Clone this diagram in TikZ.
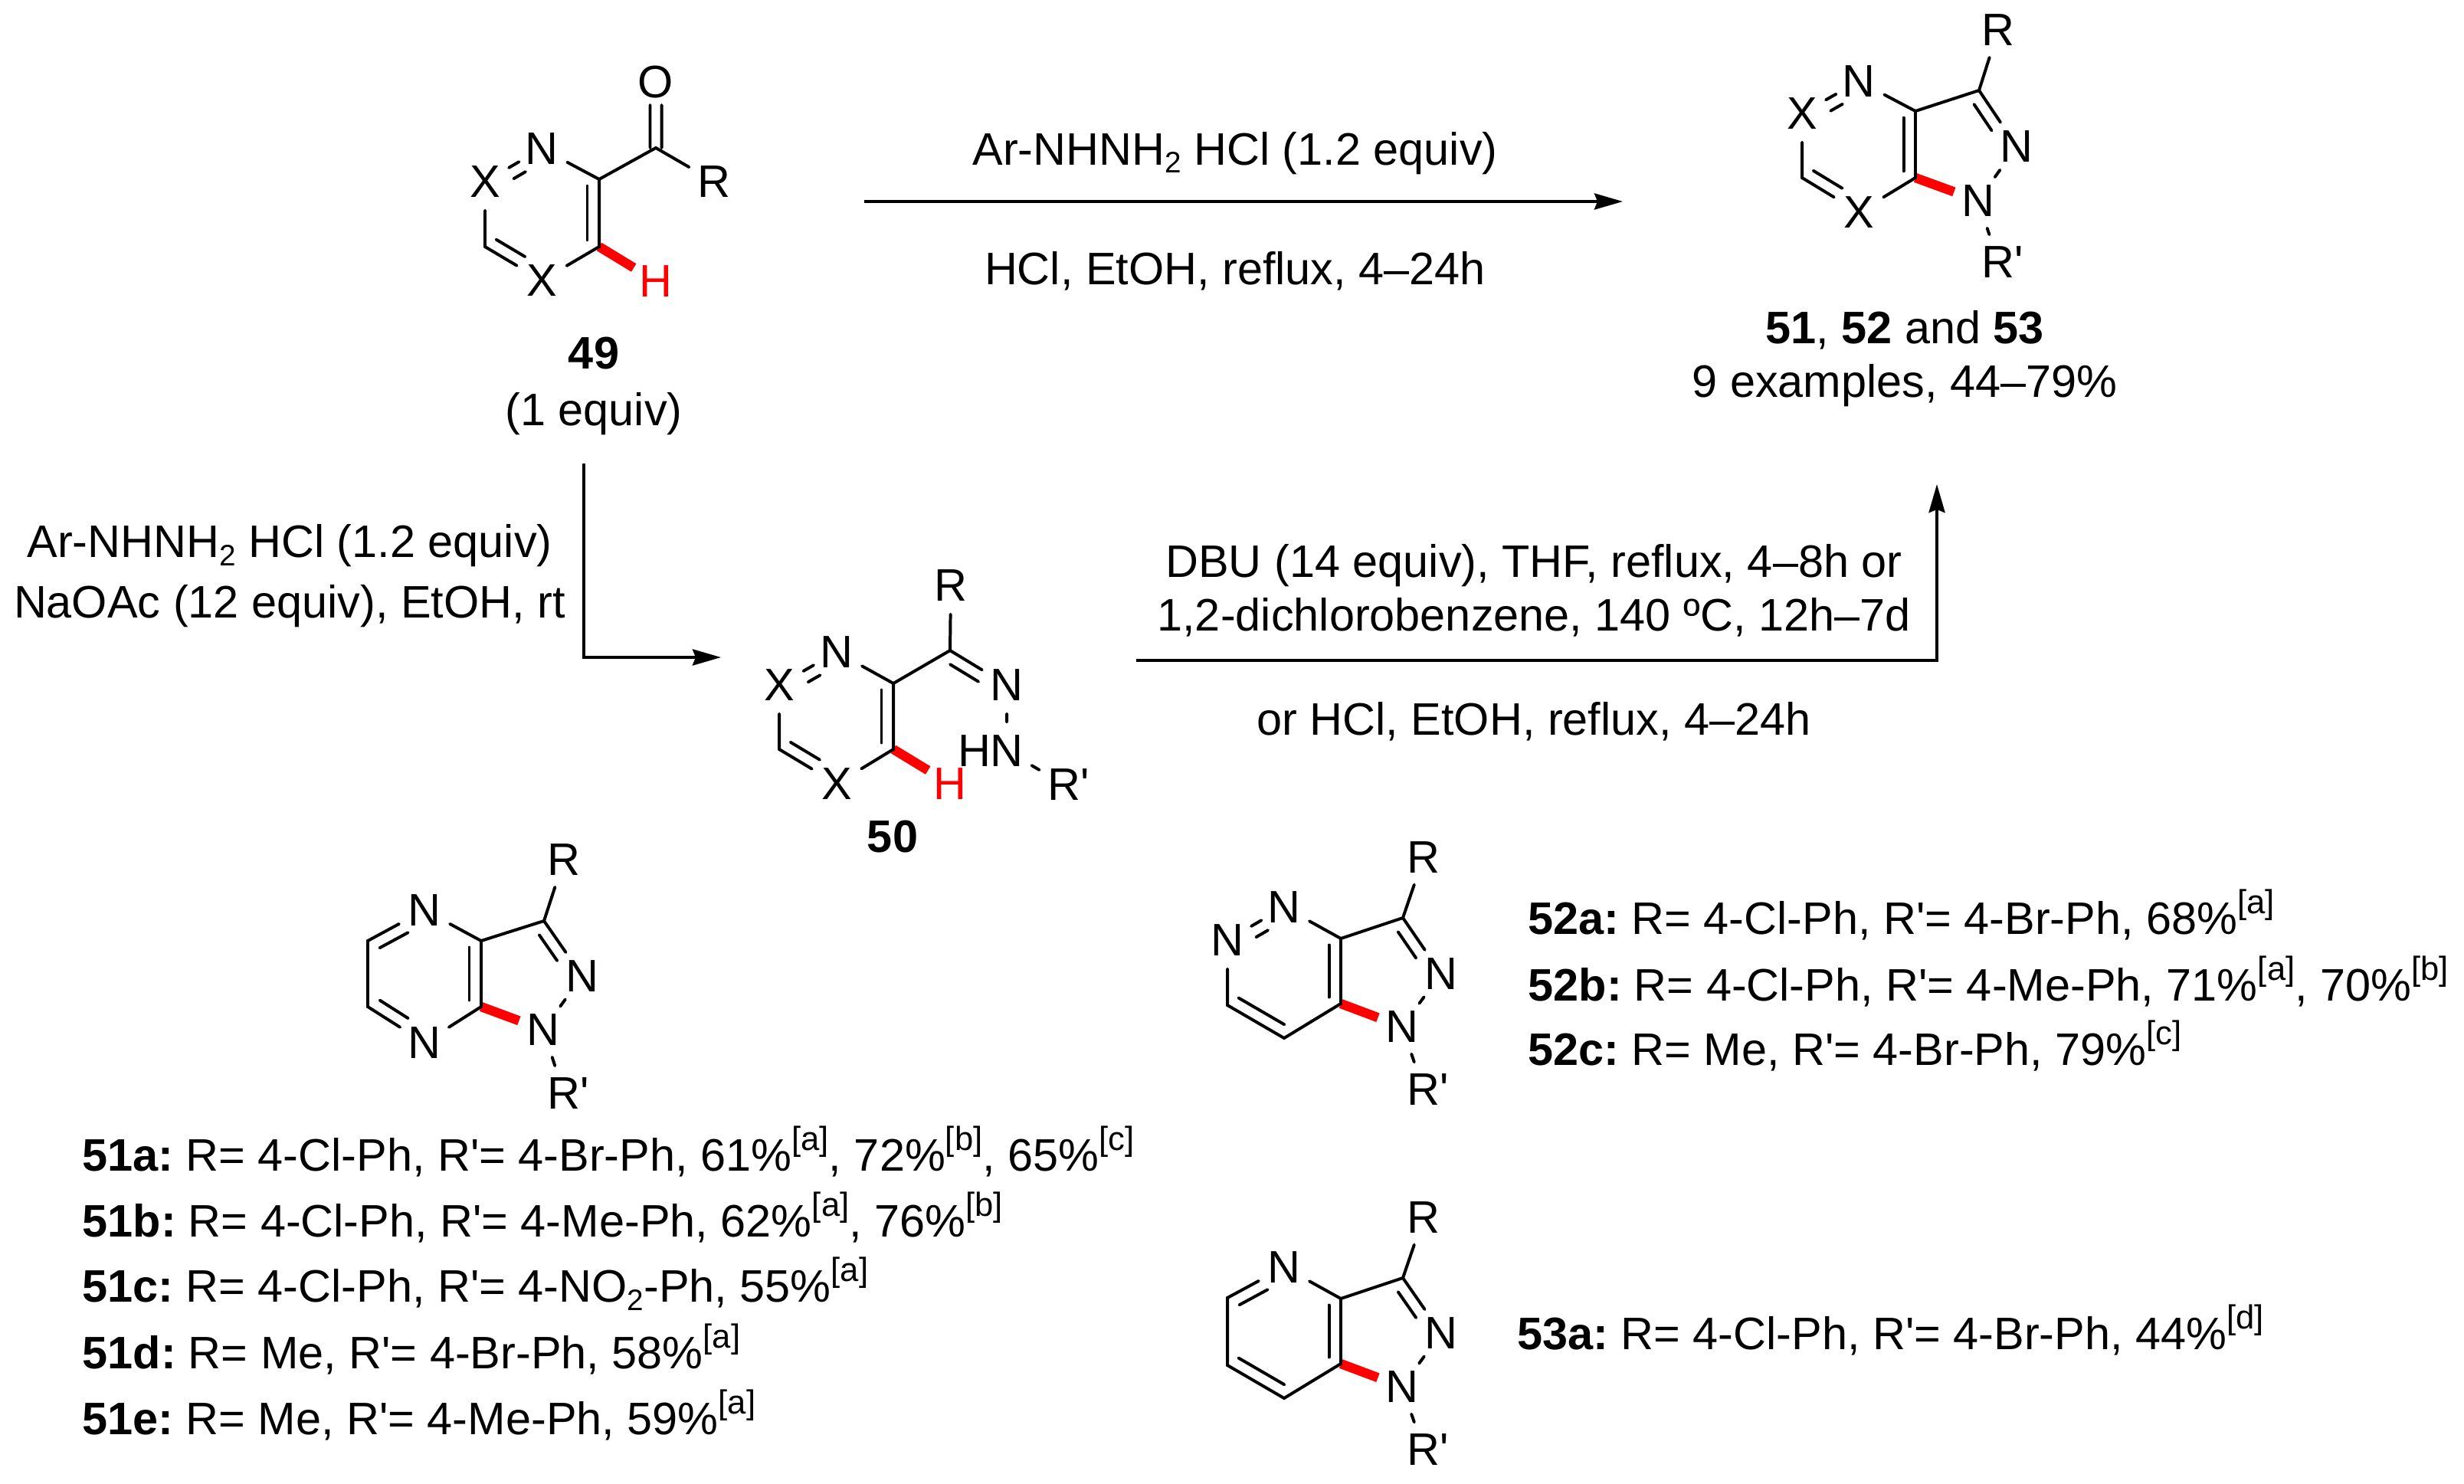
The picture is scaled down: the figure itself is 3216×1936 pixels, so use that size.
\documentclass[tikz,border=0pt]{standalone}
\usepackage{fontspec}
\setmainfont{Liberation Sans}[Ligatures=TeXOff]
\usetikzlibrary{arrows.meta,calc}

\newcommand{\ssub}[1]{\raisebox{-0.35ex}{\fontsize{11}{12}\selectfont #1}}
\newcommand{\ssup}[1]{\raisebox{0.85ex}{\fontsize{12.4}{13}\selectfont #1}}
\newcommand{\cpd}[1]{\textbf{#1}\hspace{-0.06cm} }
\newcommand{\bondline}[5][0.155cm]{%
    \draw[bond] ($(#2)!#4!(#3)!#1!90:(#3)$) -- ($(#2)!#5!(#3)!#1!-90:(#2)$);}
\newcommand{\nxbond}[2]{\bondline[0cm]{#1}{#2}{.40}{.58}\bondline{#1}{#2}{.39}{.60}}
\newcommand{\pyrazole}[1]{%
    \draw[redbond] (cb#1) -- (na#1);
    \draw[bond] (ca#1) -- (cb#1);
    \draw[bond] (ca#1) -- (cc#1) -- (r#1);
    \draw[bond] (cc#1) -- (nb#1) -- (na#1) -- (rp#1);
    \bondline{cb#1}{ca#1}{.1}{.9}
    \bondline{nb#1}{cc#1}{.40}{.87}}

\begin{document}
\begin{tikzpicture}[%
    >={Stealth[length=0.37cm,width=0.21cm,inset=0.04cm]},
    every node/.style={font={\fontsize{16.9}{20}\selectfont}},
    atom/.style={circle, inner sep=0, minimum size=0.74cm},
    txt/.style={inner sep=0, anchor=base},
    entry/.style={inner sep=0, anchor=base west},
    bond/.style={line width=1.13pt, line cap=round},
    redbond/.style={line width=3.5pt, red, shorten >=-0.04cm},
    rxn/.style={line width=1.13pt, ->},
    x=0.01cm,
    y=-0.01cm
    ]
    \useasboundingbox (0,0) rectangle (3216,1936);

    % 49
    \node at (707,194) [atom] (n49) {N};
    \node at (633,237) [atom] (xa49) {X};
    \node at (707,366) [atom] (xb49) {X};
    \node at (856,107) [atom] (o49) {O};
    \node at (932,237) [atom] (r49) {R};
    \node at (856,367) [atom, text=red] (h49) {H};
    \coordinate (ca49) at (782,234);
    \coordinate (cb49) at (782,322);
    \coordinate (c49) at (633,322);
    \coordinate (cc49) at (856,193);
    \draw[redbond] (cb49) -- (h49);
    \draw[bond] (n49) -- (ca49) -- (cb49) -- (xb49);
    \draw[bond] (xa49) -- (c49) -- (xb49);
    \draw[bond] (ca49) -- (cc49) -- (r49);
    \bondline{cb49}{ca49}{.1}{.9}
    \bondline{c49}{xb49}{.09}{.6}
    \nxbond{n49}{xa49}
    \bondline[0.075cm]{cc49}{o49}{0}{.65}
    \bondline[-0.075cm]{cc49}{o49}{0}{.65}
    \node at (775,481) [txt] (t49) {\textbf{49}};
    \node at (775,555) [txt] (eq49) {(1 equiv)};

    % top product
    \node at (2426,106) [atom] (nt) {N};
    \node at (2352,148) [atom] (xat) {X};
    \node at (2426,277) [atom] (xbt) {X};
    \node at (2608,39) [atom] (rt) {R};
    \node at (2632,191) [atom] (nbt) {N};
    \node at (2582,262) [atom] (nat) {N};
    \node at (2608,342) [atom] (rpt) {R\rlap{'}};
    \coordinate (cat) at (2500,145);
    \coordinate (cbt) at (2500,232);
    \coordinate (cct) at (2583,118);
    \coordinate (ct) at (2352,232);
    \pyrazole{t}
    \draw[bond] (nt) -- (cat);
    \draw[bond] (cbt) -- (xbt);
    \draw[bond] (xat) -- (ct) -- (xbt);
    \nxbond{nt}{xat}
    \bondline{ct}{xbt}{.09}{.6}
    \node at (2486,448) [txt] (tt) {\textbf{51}, \textbf{52} and \textbf{53}};
    \node at (2486,518) [txt] (ext) {9 examples, 44–79\%};

    % 50
    \node at (1092,851) [atom] (n50) {N};
    \node at (1017,894) [atom] (xa50) {X};
    \node at (1092,1023) [atom] (xb50) {X};
    \node at (1241,764) [atom] (r50) {R};
    \node at (1314,894) [atom] (nc50) {N};
    \node at (1314,980) [atom] (nd50) {N};
    \node at (1272,980) [atom] (hn50) {H};
    \node at (1240,1023) [atom, text=red] (h50) {H};
    \node at (1389,1024) [atom] (rp50) {R\rlap{'}};
    \coordinate (ca50) at (1166,892);
    \coordinate (cb50) at (1166,978);
    \coordinate (c50) at (1017,978);
    \coordinate (cc50) at (1240,849);
    \draw[redbond] (cb50) -- (h50);
    \draw[bond] (n50) -- (ca50) -- (cb50) -- (xb50);
    \draw[bond] (xa50) -- (c50) -- (xb50);
    \draw[bond] (ca50) -- (cc50) -- (r50);
    \draw[bond] (cc50) -- (nc50) -- (nd50) -- (rp50);
    \bondline{cb50}{ca50}{.1}{.9}
    \bondline{c50}{xb50}{.09}{.6}
    \bondline{nc50}{cc50}{.39}{.89}
    \nxbond{n50}{xa50}
    \node at (1165,1112) [txt] (t50) {\textbf{50}};

    % 51
    \node at (554,1188) [atom] (nt51) {N};
    \node at (554,1361) [atom] (nu51) {N};
    \node at (736,1122) [atom] (r51) {R};
    \node at (760,1274) [atom] (nb51) {N};
    \node at (709,1344) [atom] (na51) {N};
    \node at (736,1427) [atom] (rp51) {R\rlap{'}};
    \coordinate (ca51) at (628,1228);
    \coordinate (cb51) at (628,1314);
    \coordinate (cc51) at (710,1202);
    \coordinate (c51) at (480,1228);
    \coordinate (d51) at (480,1314);
    \pyrazole{51}
    \draw[bond] (ca51) -- (nt51) -- (c51) -- (d51) -- (nu51) -- (cb51);
    \bondline{nt51}{c51}{.39}{.89}
    \bondline{d51}{nu51}{.1}{.6}

    % 52
    \node at (1676,1184) [atom] (nt52) {N};
    \node at (1602,1227) [atom] (nu52) {N};
    \node at (1858,1119) [atom] (r52) {R};
    \node at (1881,1271) [atom] (nb52) {N};
    \node at (1830,1340) [atom] (na52) {N};
    \node at (1858,1422) [atom] (rp52) {R\rlap{'}};
    \coordinate (ca52) at (1750,1225);
    \coordinate (cb52) at (1750,1310);
    \coordinate (cc52) at (1831,1198);
    \coordinate (c52) at (1602,1312);
    \coordinate (d52) at (1676,1355);
    \pyrazole{52}
    \draw[bond] (ca52) -- (nt52);
    \draw[bond] (nu52) -- (c52) -- (d52) -- (cb52);
    \nxbond{nt52}{nu52}
    \bondline{c52}{d52}{.09}{.9}

    % 53
    \node at (1676,1654) [atom] (nt53) {N};
    \node at (1858,1589) [atom] (r53) {R};
    \node at (1881,1740) [atom] (nb53) {N};
    \node at (1830,1810) [atom] (na53) {N};
    \node at (1858,1892) [atom] (rp53) {R\rlap{'}};
    \coordinate (ca53) at (1750,1695);
    \coordinate (cb53) at (1750,1780);
    \coordinate (cc53) at (1831,1668);
    \coordinate (c53) at (1602,1694);
    \coordinate (d53) at (1602,1782);
    \coordinate (e53) at (1676,1825);
    \pyrazole{53}
    \draw[bond] (ca53) -- (nt53) -- (c53) -- (d53) -- (e53) -- (cb53);
    \bondline{nt53}{c53}{.39}{.89}
    \bondline{d53}{e53}{.09}{.9}

    % arrows
    \coordinate (sa) at (1128,263);
    \coordinate (ea) at (2118,263);
    \draw[rxn] (sa) -- (ea);
    \coordinate (sb) at (762,605);
    \coordinate (eb) at (941,858);
    \draw[rxn] (sb) |- (eb);
    \coordinate (sc) at (1483,862);
    \coordinate (ec) at (2528,632);
    \draw[rxn] (sc) -| (ec);

    % conditions
    \node at (1612,215) [txt] (ca) {Ar-NHNH\ssub{2} HCl (1.2 equiv)};
    \node at (1612,371) [txt] (cb) {HCl, EtOH, reflux, 4–24h};
    \node at (378,727) [txt] (cc) {Ar-NHNH\ssub{2} HCl (1.2 equiv)};
    \node at (378,806) [txt] (cd) {NaOAc (12 equiv), EtOH, rt};
    \node at (2002,753) [txt] (ce) {DBU (14 equiv), THF, reflux, 4–8h or};
    \node at (2002,823) [txt] (cf) {1,2-dichlorobenzene, 140 ºC, 12h–7d};
    \node at (2002,959) [txt] (cg) {or HCl, EtOH, reflux, 4–24h};

    % entries
    \node at (107,1528) [entry] (l51a) {\cpd{51a:}R= 4-Cl-Ph, R'= 4-Br-Ph, 61\%\ssup{[a]}, 72\%\ssup{[b]}, 65\%\ssup{[c]}};
    \node at (107,1614) [entry] (l51b) {\cpd{51b:}R= 4-Cl-Ph, R'= 4-Me-Ph, 62\%\ssup{[a]}, 76\%\ssup{[b]}};
    \node at (107,1699) [entry] (l51c) {\cpd{51c:}R= 4-Cl-Ph, R'= 4-NO\ssub{2}-Ph, 55\%\ssup{[a]}};
    \node at (107,1786) [entry] (l51d) {\cpd{51d:}R= Me, R'= 4-Br-Ph, 58\%\ssup{[a]}};
    \node at (107,1872) [entry] (l51e) {\cpd{51e:}R= Me, R'= 4-Me-Ph, 59\%\ssup{[a]}};
    \node at (1994,1219) [entry] (l52a) {\cpd{52a:}R= 4-Cl-Ph, R'= 4-Br-Ph, 68\%\ssup{[a]}};
    \node at (1994,1306) [entry] (l52b) {\cpd{52b:}R= 4-Cl-Ph, R'= 4-Me-Ph, 71\%\ssup{[a]}, 70\%\ssup{[b]}};
    \node at (1994,1390) [entry] (l52c) {\cpd{52c:}R= Me, R'= 4-Br-Ph, 79\%\ssup{[c]}};
    \node at (1980,1761) [entry] (l53a) {\cpd{53a:}R= 4-Cl-Ph, R'= 4-Br-Ph, 44\%\ssup{[d]}};
\end{tikzpicture}
\end{document}
